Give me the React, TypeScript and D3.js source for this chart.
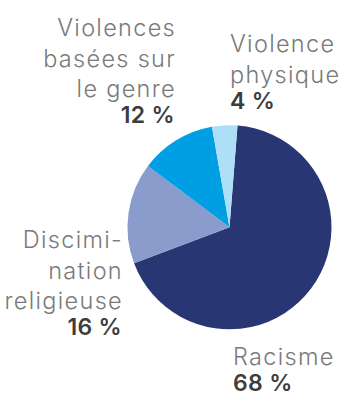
import React from "react";
import * as d3 from "d3";

const categories = ["Racisme", "Discrimination religieuse", "Violences basées sur le genre", "Violence physique"];
const values = [68, 16, 12, 4];
const percentLabels = ["68 %", "16 %", "12 %", "4 %"];
const labelLines = [["Racisme"], ["Discimi-", "nation", "religieuse"], ["Violences", "basées sur", "le genre"], ["Violence", "physique"]];
const colors = ["#283673", "#8a9ccc", "#009fe3", "#addff7"];

const W = 344;
const H = 396;
const cx = 229.5;
const cy = 227.3;
const R = 102;
const rot = (4.5 * Math.PI) / 180;

// label anchor: x, first baseline y, anchor
const labelPos: [number, number, "start" | "end"][] = [
  [233, 365, "start"],
  [123, 248, "end"],
  [176, 36, "end"],
  [230, 52, "start"],
];

const LINE = 30.5;
const PCT_GAP = 26;

export default function App() {
  const pie = d3
    .pie<number>()
    .sort(null)
    .startAngle(rot)
    .endAngle(rot + Math.PI * 2);
  const arcs = pie(values);
  const arc = d3.arc<d3.PieArcDatum<number>>().innerRadius(0).outerRadius(R);

  return (
    <svg
      width={W}
      height={H}
      style={{ position: "absolute", left: 0, top: 0, background: "#fff" }}
    >
      <g transform={`translate(${cx},${cy})`}>
        {arcs.map((a, i) => (
          <path key={categories[i]} d={arc(a) || ""} fill={colors[i]} />
        ))}
      </g>
      {labelLines.map((lines, i) => {
        const [x, y, anchor] = labelPos[i];
        const lastY = y + (lines.length - 1) * LINE;
        return (
          <g key={categories[i]} textAnchor={anchor}>
            {lines.map((ln, j) => (
              <text
                key={j}
                x={x}
                y={y + j * LINE}
                fontFamily="Inter, sans-serif"
                fontWeight={300}
                fontSize={23.5}
                letterSpacing={1.3}
                fill="#7a7a7a"
              >
                {ln}
              </text>
            ))}
            <text
              x={anchor === "end" ? x - 1 : x}
              y={lastY + PCT_GAP}
              fontFamily="Inter, sans-serif"
              fontWeight={600}
              fontSize={23}
              letterSpacing={0.3}
              fill="#3d3d3d"
            >
              {percentLabels[i]}
            </text>
          </g>
        );
      })}
    </svg>
  );
}
